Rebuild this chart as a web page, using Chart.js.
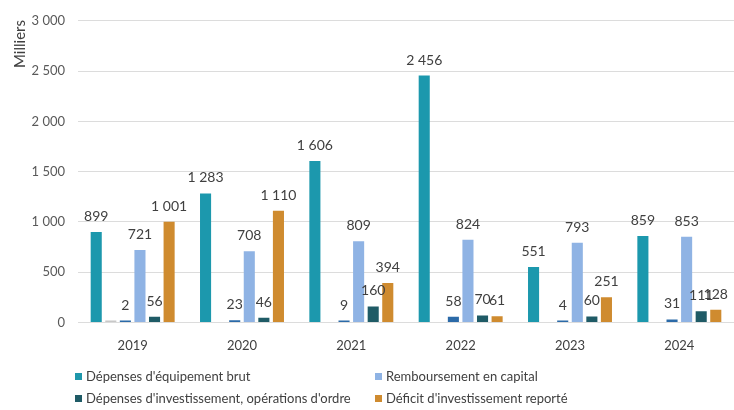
<!DOCTYPE html>
<html>
<head>
<meta charset="utf-8">
<script src="https://cdn.jsdelivr.net/npm/chart.js@4.4.1/dist/chart.umd.min.js"></script>
<style>
  html, body { margin: 0; padding: 0; background: #fff; }
  #wrap { position: relative; width: 734px; height: 410px; }
  canvas { position: absolute; left: 0; top: 0; }
  .leg { position: absolute; font-family: Lato, "Liberation Sans", sans-serif; font-size: 13px; color: #404040; white-space: nowrap; line-height: 16px; }
  .leg span.sw { display: inline-block; width: 7px; height: 7px; margin-right: 4px; vertical-align: 1px; }
</style>
</head>
<body>
<div id="wrap">
  <canvas id="c" width="734" height="410"></canvas>
</div>
<script>
const categories = ['2019', '2020', '2021', '2022', '2023', '2024'];
const equipementBrut = [899, 1283, 1606, 2456, 551, 859];
const serieGrise = [1, null, null, null, null, null];
const serieBleueFoncee = [2, 23, 9, 58, 4, 31];
const remboursementCapital = [721, 708, 809, 824, 793, 853];
const operationsOrdre = [56, 46, 160, 70, 60, 111];
const deficitReporte = [1001, 1110, 394, 61, 251, 128];
const yTicks = [0, 500, 1000, 1500, 2000, 2500, 3000];
const yAxisTitle = 'Milliers';

const legendItems = [
  { label: "Dépenses d'équipement brut", color: '#1e97ab', x: 75, y: 368 },
  { label: 'Remboursement en capital', color: '#8fb3e4', x: 375, y: 368 },
  { label: "Dépenses d'investissement, opérations d'ordre", color: '#1f5b66', x: 75, y: 390 },
  { label: "Déficit d'investissement reporté", color: '#cf8b2f', x: 375, y: 390 }
];

function fmt(v) {
  return String(v).replace(/\B(?=(\d{3})+(?!\d))/g, ' ');
}

const wrap = document.getElementById('wrap');
legendItems.forEach(it => {
  const d = document.createElement('div');
  d.className = 'leg';
  d.style.left = it.x + 'px';
  d.style.top = it.y + 'px';
  const sw = document.createElement('span');
  sw.className = 'sw';
  sw.style.background = it.color;
  d.appendChild(sw);
  d.appendChild(document.createTextNode(it.label));
  wrap.appendChild(d);
});

const labelPlugin = {
  id: 'valueLabels',
  afterDatasetsDraw(chart) {
    const ctx = chart.ctx;
    ctx.save();
    ctx.font = '14px Lato, "Liberation Sans", sans-serif';
    ctx.fillStyle = '#404040';
    ctx.textAlign = 'center';
    ctx.textBaseline = 'alphabetic';
    chart.data.datasets.forEach((ds, i) => {
      if (!ds.showValue) return;
      const meta = chart.getDatasetMeta(i);
      meta.data.forEach((bar, j) => {
        const v = ds.data[j];
        if (v === null || v === undefined) return;
        ctx.fillText(fmt(v), bar.x, Math.min(bar.y, chart.scales.y.getPixelForValue(0) - 2) - 11);
      });
    });
    // y axis title, placed at the top like the original
    ctx.translate(20, 44);
    ctx.rotate(-Math.PI / 2);
    ctx.font = '15px Lato, "Liberation Sans", sans-serif';
    ctx.textBaseline = 'middle';
    ctx.fillText(yAxisTitle, 0, 0);
    ctx.restore();
  }
};

const common = { categoryPercentage: 0.8, barPercentage: 0.76, minBarLength: 2, borderWidth: 0 };

new Chart(document.getElementById('c'), {
  type: 'bar',
  data: {
    labels: categories,
    datasets: [
      Object.assign({ label: "Dépenses d'équipement brut", data: equipementBrut, backgroundColor: '#1c98ad', showValue: true }, common),
      Object.assign({ label: '', data: serieGrise, backgroundColor: '#c8c8c8', showValue: false }, common),
      Object.assign({ label: '', data: serieBleueFoncee, backgroundColor: '#2b6aa8', showValue: true }, common),
      Object.assign({ label: 'Remboursement en capital', data: remboursementCapital, backgroundColor: '#8fb3e4', showValue: true }, common),
      Object.assign({ label: "Dépenses d'investissement, opérations d'ordre", data: operationsOrdre, backgroundColor: '#1f5b66', showValue: true }, common),
      Object.assign({ label: "Déficit d'investissement reporté", data: deficitReporte, backgroundColor: '#cf8b2f', showValue: true }, common)
    ]
  },
  options: {
    responsive: false,
    animation: false,
    layout: { padding: { top: 15, right: 0, left: 0, bottom: 0 } },
    plugins: { legend: { display: false }, tooltip: { enabled: false } },
    scales: {
      x: {
        grid: { display: false },
        border: { display: false },
        ticks: { color: '#404040', font: { family: 'Lato, "Liberation Sans", sans-serif', size: 13 }, padding: 8 },
        afterFit(s) { s.height = 87.5; }
      },
      y: {
        min: 0,
        max: 3000,
        afterBuildTicks(s) { s.ticks = yTicks.map(v => ({ value: v })); },
        grid: { color: '#dcdcdc', drawTicks: false },
        border: { display: false },
        ticks: {
          color: '#595959',
          font: { family: 'Lato, "Liberation Sans", sans-serif', size: 13 },
          padding: 13,
          callback: v => fmt(v)
        },
        afterFit(s) { s.width = 78; }
      }
    }
  },
  plugins: [labelPlugin]
});
</script>
</body>
</html>
